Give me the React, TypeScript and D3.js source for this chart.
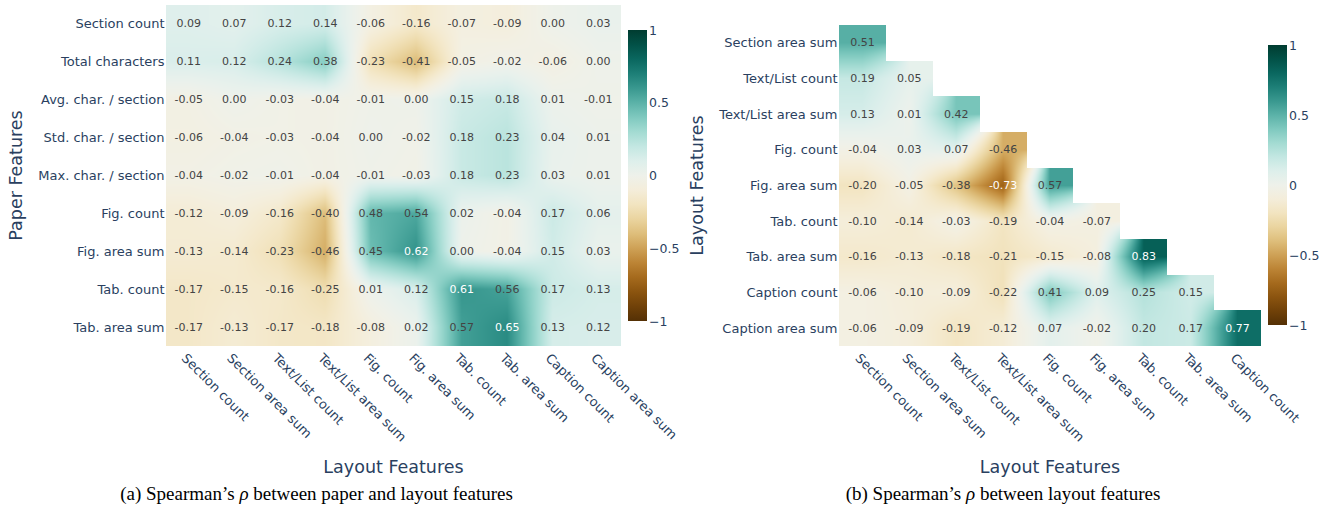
import * as d3 from "d3";
import React, { useMemo } from "react";

const paperFeatures = [
    "Section count",
    "Total characters",
    "Avg. char. / section",
    "Std. char. / section",
    "Max. char. / section",
    "Fig. count",
    "Fig. area sum",
    "Tab. count",
    "Tab. area sum",
];

const layoutFeatures = [
    "Section count",
    "Section area sum",
    "Text/List count",
    "Text/List area sum",
    "Fig. count",
    "Fig. area sum",
    "Tab. count",
    "Tab. area sum",
    "Caption count",
    "Caption area sum",
];

// rows: paperFeatures, cols: layoutFeatures
const paperLayoutRho = [
    [0.09, 0.07, 0.12, 0.14, -0.06, -0.16, -0.07, -0.09, 0.0, 0.03],
    [0.11, 0.12, 0.24, 0.38, -0.23, -0.41, -0.05, -0.02, -0.06, 0.0],
    [-0.05, 0.0, -0.03, -0.04, -0.01, 0.0, 0.15, 0.18, 0.01, -0.01],
    [-0.06, -0.04, -0.03, -0.04, 0.0, -0.02, 0.18, 0.23, 0.04, 0.01],
    [-0.04, -0.02, -0.01, -0.04, -0.01, -0.03, 0.18, 0.23, 0.03, 0.01],
    [-0.12, -0.09, -0.16, -0.4, 0.48, 0.54, 0.02, -0.04, 0.17, 0.06],
    [-0.13, -0.14, -0.23, -0.46, 0.45, 0.62, 0.0, -0.04, 0.15, 0.03],
    [-0.17, -0.15, -0.16, -0.25, 0.01, 0.12, 0.61, 0.56, 0.17, 0.13],
    [-0.17, -0.13, -0.17, -0.18, -0.08, 0.02, 0.57, 0.65, 0.13, 0.12],
];

// lower triangle: rows layoutFeatures[1..9], cols layoutFeatures[0..8]
const layoutRho = [
    [0.51],
    [0.19, 0.05],
    [0.13, 0.01, 0.42],
    [-0.04, 0.03, 0.07, -0.46],
    [-0.2, -0.05, -0.38, -0.73, 0.57],
    [-0.1, -0.14, -0.03, -0.19, -0.04, -0.07],
    [-0.16, -0.13, -0.18, -0.21, -0.15, -0.08, 0.83],
    [-0.06, -0.1, -0.09, -0.22, 0.41, 0.09, 0.25, 0.15],
    [-0.06, -0.09, -0.19, -0.12, 0.07, -0.02, 0.2, 0.17, 0.77],
];

const colorbarTicks = [1, 0.5, 0, -0.5, -1];

const FONT = "'DejaVu Sans', Verdana, sans-serif";
const AXIS_COLOR = "#2a3f5f";

const color = d3.scaleSequential(d3.interpolateBrBG).domain([-1, 1]);

// bilinear smoothing between cell centres, like plotly's zsmooth "best"
function smoothImage(z: number[][], nCols: number, w: number, h: number) {
    const nRows = z.length;
    const val = (r: number, c: number) => {
        const v = z[r] ? z[r][c] : undefined;
        return v === undefined ? NaN : v;
    };
    const canvas = document.createElement("canvas");
    canvas.width = w;
    canvas.height = h;
    const ctx = canvas.getContext("2d");
    if (!ctx) return "";
    const img = ctx.createImageData(w, h);
    for (let py = 0; py < h; py++) {
        const fy = Math.max(0, Math.min(nRows - 1, ((py + 0.5) / h) * nRows - 0.5));
        const r0 = Math.floor(fy);
        const r1 = Math.min(r0 + 1, nRows - 1);
        const ty = fy - r0;
        const cellR = Math.min(nRows - 1, Math.floor(((py + 0.5) / h) * nRows));
        for (let px = 0; px < w; px++) {
            const idx = (py * w + px) * 4;
            const cellC = Math.min(nCols - 1, Math.floor(((px + 0.5) / w) * nCols));
            if (isNaN(val(cellR, cellC))) {
                img.data[idx + 3] = 0;
                continue;
            }
            const fx = Math.max(0, Math.min(nCols - 1, ((px + 0.5) / w) * nCols - 0.5));
            const c0 = Math.floor(fx);
            const c1 = Math.min(c0 + 1, nCols - 1);
            const tx = fx - c0;
            const corners: [number, number][] = [
                [val(r0, c0), (1 - tx) * (1 - ty)],
                [val(r0, c1), tx * (1 - ty)],
                [val(r1, c0), (1 - tx) * ty],
                [val(r1, c1), tx * ty],
            ];
            let sum = 0;
            let wsum = 0;
            corners.forEach(([v, wt]) => {
                if (!isNaN(v)) {
                    sum += v * wt;
                    wsum += wt;
                }
            });
            const v = wsum > 0 ? sum / wsum : val(cellR, cellC);
            const c = d3.rgb(color(v));
            img.data[idx] = c.r;
            img.data[idx + 1] = c.g;
            img.data[idx + 2] = c.b;
            img.data[idx + 3] = 255;
        }
    }
    ctx.putImageData(img, 0, 0);
    return canvas.toDataURL();
}

interface HeatmapProps {
    id: string;
    z: number[][];
    rowLabels: string[];
    colLabels: string[];
    x0: number;
    x1: number;
    y0: number;
    y1: number;
    cbX: number;
    cbY0: number;
    cbY1: number;
    yTitle: string;
    yTitleX: number;
    xTitle: string;
    captionPre: string;
    captionPost: string;
    captionX: number;
}

const Heatmap: React.FC<HeatmapProps> = (p) => {
    const xScale = d3.scaleBand<string>().domain(p.colLabels).range([p.x0, p.x1]);
    const yScale = d3.scaleBand<string>().domain(p.rowLabels).range([p.y0, p.y1]);
    const cbScale = d3.scaleLinear().domain([-1, 1]).range([p.cbY1, p.cbY0]);
    const w = Math.round(p.x1 - p.x0);
    const h = Math.round(p.y1 - p.y0);

    const href = useMemo(
        () => smoothImage(p.z, p.colLabels.length, w, h),
        [p.z, p.colLabels.length, w, h]
    );

    const stops = d3.range(0, 1.0001, 0.05);

    return (
        <g>
            <defs>
                <linearGradient id={`cb-${p.id}`} x1="0" y1="1" x2="0" y2="0">
                    {stops.map((t) => (
                        <stop key={t} offset={t} stopColor={d3.interpolateBrBG(t)} />
                    ))}
                </linearGradient>
            </defs>
            <image
                href={href}
                x={p.x0}
                y={p.y0}
                width={w}
                height={h}
                preserveAspectRatio="none"
            />
            {p.z.map((row, i) =>
                row.map((v, j) => (
                    <text
                        key={`${i}-${j}`}
                        x={(xScale(p.colLabels[j]) as number) + xScale.bandwidth() / 2}
                        y={(yScale(p.rowLabels[i]) as number) + yScale.bandwidth() / 2}
                        textAnchor="middle"
                        dominantBaseline="central"
                        fontSize={11}
                        fill={Math.abs(v) >= 0.6 ? "#ffffff" : "#444444"}
                    >
                        {v.toFixed(2)}
                    </text>
                ))
            )}
            {p.rowLabels.map((label) => (
                <text
                    key={label}
                    x={p.x0 - 1.5}
                    y={(yScale(label) as number) + yScale.bandwidth() / 2}
                    textAnchor="end"
                    dominantBaseline="central"
                    fontSize={13}
                    fill={AXIS_COLOR}
                >
                    {label}
                </text>
            ))}
            {p.colLabels.map((label) => {
                const cx = (xScale(label) as number) + xScale.bandwidth() / 2;
                return (
                    <text
                        key={label}
                        transform={`translate(${cx - 1},${p.y1 + 6}) rotate(45)`}
                        dy="0.75em"
                        fontSize={13}
                        fill={AXIS_COLOR}
                    >
                        {label}
                    </text>
                );
            })}
            <rect
                x={p.cbX}
                y={p.cbY0}
                width={19}
                height={p.cbY1 - p.cbY0}
                fill={`url(#cb-${p.id})`}
            />
            {colorbarTicks.map((t) => (
                <text
                    key={t}
                    x={p.cbX + 21}
                    y={cbScale(t)}
                    dominantBaseline="central"
                    fontSize={12.5}
                    fill={AXIS_COLOR}
                >
                    {t < 0 ? `\u2212${Math.abs(t)}` : t}
                </text>
            ))}
            <text
                transform={`translate(${p.yTitleX},${(p.y0 + p.y1) / 2}) rotate(-90)`}
                textAnchor="middle"
                dominantBaseline="central"
                fontSize={17.5}
                fill={AXIS_COLOR}
            >
                {p.yTitle}
            </text>
            <text
                x={(p.x0 + p.x1) / 2}
                y={467}
                textAnchor="middle"
                dominantBaseline="central"
                fontSize={17.5}
                fill={AXIS_COLOR}
            >
                {p.xTitle}
            </text>
            <text
                x={p.captionX}
                y={500}
                textAnchor="middle"
                fontFamily="'Liberation Serif', 'Times New Roman', serif"
                fontSize={19}
                fill="#000"
            >
                {p.captionPre}
                <tspan fontStyle="italic">ρ</tspan>
                {p.captionPost}
            </text>
        </g>
    );
};

export default function App() {
    return (
        <svg
            width={1331}
            height={512}
            style={{ position: "absolute", left: 0, top: 0, background: "#fff" }}
            fontFamily={FONT}
        >
            <Heatmap
                id="a"
                z={paperLayoutRho}
                rowLabels={paperFeatures}
                colLabels={layoutFeatures}
                x0={166}
                x1={621}
                y0={5}
                y1={346}
                cbX={628}
                cbY0={30}
                cbY1={321}
                yTitle="Paper Features"
                yTitleX={16}
                xTitle="Layout Features"
                captionPre="(a) Spearman’s "
                captionPost=" between paper and layout features"
                captionX={316.5}
            />
            <Heatmap
                id="b"
                z={layoutRho}
                rowLabels={layoutFeatures.slice(1)}
                colLabels={layoutFeatures.slice(0, 9)}
                x0={839}
                x1={1261}
                y0={25}
                y1={346}
                cbX={1268}
                cbY0={45}
                cbY1={325}
                yTitle="Layout Features"
                yTitleX={697}
                xTitle="Layout Features"
                captionPre="(b) Spearman’s "
                captionPost=" between layout features"
                captionX={1003}
            />
        </svg>
    );
}
